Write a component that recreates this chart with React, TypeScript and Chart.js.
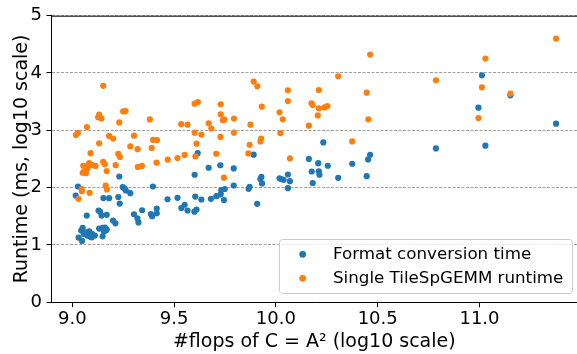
import React, { useEffect, useRef } from "react";
import { Chart, registerables } from "chart.js";

Chart.register(...registerables);

const seriesNames = ["Format conversion time", "Single TileSpGEMM runtime"];

const conversionX = [
  9.231, 9.028, 9.017, 9.248, 9.258, 9.263, 9.285, 9.153, 9.181, 9.226, 9.233, 9.129, 9.136, 9.071, 9.144, 9.169,
  9.343, 9.303, 9.32, 9.325, 9.2, 9.212, 9.051, 9.044, 9.067, 9.083, 9.097, 9.057, 9.074, 9.087, 9.111, 9.095,
  9.132, 9.149, 9.16, 9.169, 9.155, 9.164, 9.149, 9.031, 9.048, 9.396, 9.386, 9.392, 9.415, 9.415, 9.468, 9.517,
  9.604, 9.634, 9.681, 9.708, 9.729, 9.732, 9.749, 9.745, 9.793, 9.601, 9.67, 9.727, 9.793, 9.616, 9.552, 9.536,
  9.566, 9.6, 9.61, 9.891, 10.233, 10.162, 10.208, 10.255, 10.176, 10.211, 10.214, 10.306, 10.059, 9.929, 9.924,
  9.932, 10.018, 10.026, 10.038, 10.069, 10.181, 9.871, 9.866, 10.059, 9.908, 11.012, 11.152, 10.995, 11.376,
  10.786, 11.029, 10.463, 10.453, 10.375, 10.446,
];
const conversionY = [
  2.194, 2.019, 1.862, 2.007, 1.979, 1.949, 1.902, 1.818, 1.815, 1.836, 1.722, 1.6, 1.582, 1.512, 1.512, 1.524,
  1.605, 1.535, 1.463, 1.393, 1.425, 1.376, 1.297, 1.25, 1.22, 1.238, 1.192, 1.192, 1.163, 1.145, 1.163, 1.133,
  1.285, 1.297, 1.302, 1.267, 1.233, 1.25, 1.15, 1.128, 1.07, 2.019, 1.538, 1.5, 1.635, 1.552, 1.797, 1.822,
  1.844, 1.792, 1.804, 1.85, 1.883, 1.955, 1.976, 1.783, 2.037, 2.224, 2.346, 2.39, 2.334, 2.601, 1.701, 1.643,
  1.6, 1.579, 1.617, 2.575, 2.789, 2.5, 2.427, 2.381, 2.281, 2.285, 2.226, 2.171, 2.229, 2.189, 2.15,
  2.072, 2.163, 2.15, 2.136, 2.112, 2.08, 2.014, 1.979, 1.99, 1.717, 3.96, 3.61, 3.395, 3.115,
  2.684, 2.731, 2.573, 2.491, 2.416, 2.199,
];

const runtimeX = [
  9.152, 9.132, 9.127, 9.143, 9.25, 9.262, 9.231, 9.381, 9.072, 9.027, 9.018, 9.181, 9.201, 9.303, 9.132, 9.285,
  9.321, 9.09, 9.226, 9.234, 9.152, 9.16, 9.083, 9.095, 9.114, 9.054, 9.078, 9.059, 9.067, 9.051, 9.074, 9.169,
  9.213, 9.322, 9.342, 9.397, 9.416, 9.39, 9.601, 9.617, 9.535, 9.566, 9.601, 9.634, 9.61, 9.605, 9.729, 9.729,
  9.747, 9.74, 9.67, 9.683, 9.728, 9.794, 9.794, 9.707, 9.469, 9.517, 9.552, 9.414, 9.745, 9.164, 9.17, 9.046,
  9.047, 9.085, 9.03, 9.891, 9.909, 10.059, 10.211, 10.306, 10.059, 9.931, 10.175, 10.181, 10.211, 10.239,
  10.253, 10.018, 10.206, 10.034, 9.875, 10.162, 10.022, 9.928, 9.924, 9.871, 9.865, 10.069, 10.463, 10.446,
  10.454, 10.375, 10.786, 11.029, 11.376, 11.012, 11.152, 10.995,
];
const runtimeY = [
  3.776, 3.273, 3.226, 3.208, 3.33, 3.336, 3.138, 3.19, 3.056, 2.955, 2.916, 2.902, 2.855, 2.906, 2.774, 2.719,
  2.67, 2.601, 2.587, 2.535, 2.448, 2.407, 2.427, 2.395, 2.378, 2.381, 2.374, 2.285, 2.252, 2.259, 2.329, 2.29,
  2.392, 2.36, 2.378, 2.832, 2.829, 2.692, 3.465, 3.493, 3.107, 3.098, 2.958, 2.925, 2.767, 2.544, 3.453, 3.278,
  3.185, 3.177, 3.121, 3.03, 2.885, 3.205, 2.958, 2.591, 2.488, 2.517, 2.57, 2.435, 2.173, 2.037, 1.967, 1.976,
  1.937, 1.909, 1.804, 3.85, 3.767, 3.698, 3.703, 3.942, 3.51, 3.413, 3.47, 3.441, 3.383, 3.4,
  3.423, 3.313, 3.26, 3.191, 3.098, 3.08, 2.951, 2.853, 2.806, 2.748, 2.596, 2.509, 4.322, 3.657,
  3.191, 2.806, 3.872, 4.252, 4.601, 3.75, 3.64, 3.213,
];

const xTicks = [9.0, 9.5, 10.0, 10.5, 11.0];
const yTicks = [0, 1, 2, 3, 4, 5];
const xTitle = "#flops of C = A\u00B2 (log10 scale)";
const yTitle = "Runtime (ms, log10 scale)";

const BLUE = "#1f77b4";
const ORANGE = "#ff7f0e";
const FONT = "DejaVu Sans";
const TICK_FS = 18;
const TITLE_FS = 19;
const LEGEND_FS = 16.7;

const framePlugin = {
  id: "frame",
  afterDraw(chart: any) {
    const { ctx, chartArea: a } = chart;
    ctx.save();
    ctx.strokeStyle = "#000";
    ctx.lineWidth = 1;
    ctx.beginPath();
    ctx.moveTo(a.left, a.top + 0.5);
    ctx.lineTo(a.right, a.top + 0.5);
    ctx.stroke();

    // legend box
    const bx = 279.5, by = 239.5, bw = 293, bh = 54, r = 3;
    ctx.beginPath();
    ctx.moveTo(bx + r, by);
    ctx.lineTo(bx + bw - r, by);
    ctx.arcTo(bx + bw, by, bx + bw, by + r, r);
    ctx.lineTo(bx + bw, by + bh - r);
    ctx.arcTo(bx + bw, by + bh, bx + bw - r, by + bh, r);
    ctx.lineTo(bx + r, by + bh);
    ctx.arcTo(bx, by + bh, bx, by + bh - r, r);
    ctx.lineTo(bx, by + r);
    ctx.arcTo(bx, by, bx + r, by, r);
    ctx.closePath();
    ctx.fillStyle = "rgba(255,255,255,0.8)";
    ctx.fill();
    ctx.strokeStyle = "#cccccc";
    ctx.stroke();

    const colors = [BLUE, ORANGE];
    const rows = [254.3, 278.3];
    ctx.font = `${LEGEND_FS}px "${FONT}"`;
    ctx.textBaseline = "middle";
    ctx.textAlign = "left";
    seriesNames.forEach((name, i) => {
      ctx.beginPath();
      ctx.arc(302.7, rows[i], 3.4, 0, Math.PI * 2);
      ctx.fillStyle = colors[i];
      ctx.fill();
      ctx.fillStyle = "#000";
      ctx.fillText(name, 333, rows[i] + 0.5);
    });
    ctx.restore();
  },
};

export default function App() {
  const ref = useRef<HTMLCanvasElement | null>(null);

  useEffect(() => {
    if (!ref.current) return;
    const toPts = (xs: number[], ys: number[]) => xs.map((x, i) => ({ x, y: ys[i] }));
    const chart = new Chart(ref.current, {
      type: "scatter",
      data: {
        datasets: [
          {
            label: seriesNames[0],
            data: toPts(conversionX, conversionY),
            backgroundColor: BLUE,
            borderWidth: 0,
            pointRadius: 3.1,
            order: 1,
          },
          {
            label: seriesNames[1],
            data: toPts(runtimeX, runtimeY),
            backgroundColor: ORANGE,
            borderWidth: 0,
            pointRadius: 3.1,
            order: 0,
          },
        ],
      },
      options: {
        animation: false,
        responsive: false,
        events: [],
        layout: { autoPadding: false, padding: { top: 15.7, right: 0, left: 0, bottom: 0 } },
        plugins: {
          legend: { display: false },
          tooltip: { enabled: false },
        },
        scales: {
          x: {
            type: "linear",
            min: 8.898,
            max: 11.479,
            afterBuildTicks: (s: any) => {
              s.ticks = xTicks.map((v) => ({ value: v }));
            },
            afterFit: (s: any) => {
              s.height = 51.8;
              s.paddingLeft = 0;
              s.paddingRight = 0;
            },
            grid: {
              drawOnChartArea: false,
              drawTicks: true,
              tickLength: 5,
              tickColor: "#000",
            },
            border: { display: true, color: "#000", width: 1 },
            ticks: {
              color: "#000",
              font: { family: FONT, size: TICK_FS },
              padding: 1,
              maxRotation: 0,
              callback: (v: any) => Number(v).toFixed(1),
            },
            title: {
              display: true,
              text: xTitle,
              color: "#000",
              font: { family: FONT, size: TITLE_FS },
              padding: { top: 0, bottom: 1 },
            },
          },
          y: {
            type: "linear",
            min: 0,
            max: 5,
            afterBuildTicks: (s: any) => {
              s.ticks = yTicks.map((v) => ({ value: v }));
            },
            afterFit: (s: any) => {
              s.width = 51.5;
            },
            grid: {
              color: "#a0a0a0",
              lineWidth: 1,
              drawTicks: true,
              tickLength: 5,
              tickColor: "#000",
            },
            border: { display: true, color: "#000", width: 1, dash: [3, 1.5] },
            ticks: {
              color: "#000",
              font: { family: FONT, size: TICK_FS },
              padding: 4.5,
              callback: (v: any) => String(v),
            },
            title: {
              display: true,
              text: yTitle,
              color: "#000",
              font: { family: FONT, size: TITLE_FS },
              padding: { top: 10.6, bottom: 0 },
            },
          },
        },
      },
      plugins: [framePlugin],
    });
    return () => chart.destroy();
  }, []);

  return (
    <div style={{ position: "fixed", left: 0, top: 0, width: 577, height: 354, background: "#fff" }}>
      <canvas ref={ref} width={577} height={354} style={{ display: "block" }} />
    </div>
  );
}
